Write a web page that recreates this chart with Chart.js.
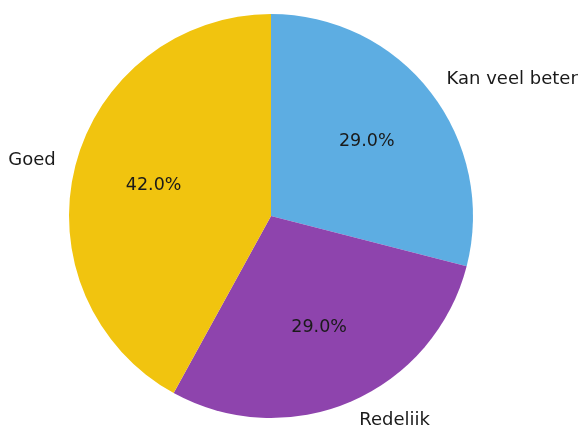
<!DOCTYPE html>
<html>
<head>
<meta charset="utf-8">
<script src="https://cdn.jsdelivr.net/npm/chart.js@4"></script>
<style>
  html, body { margin: 0; padding: 0; background: #fff; }
  canvas { display: block; }
</style>
</head>
<body>
<canvas id="pie" width="579" height="428"></canvas>
<script>
// Data
const labels = ["Kan veel beter", "Redeliik", "Goed"];
const values = [29.0, 29.0, 42.0];
const colors = ["#5DADE2", "#8E44AD", "#F1C40F"];

// Labels like matplotlib: names at 1.1 r, percentages at 0.6 r
const pieLabels = {
  id: "pieLabels",
  afterDatasetsDraw(chart) {
    const ctx = chart.ctx;
    const meta = chart.getDatasetMeta(0);
    const total = values.reduce((s, v) => s + v, 0);
    ctx.save();
    ctx.fillStyle = "#1a1a1a";
    ctx.textBaseline = "middle";
    meta.data.forEach((arc, i) => {
      const p = arc.getProps(["x", "y", "startAngle", "endAngle", "outerRadius"], true);
      const mid = (p.startAngle + p.endAngle) / 2;
      const cx = Math.cos(mid), cy = Math.sin(mid);

      ctx.font = "17.5px 'DejaVu Sans'";
      ctx.textAlign = "center";
      const pct = ((values[i] / total) * 100).toFixed(1) + "%";
      ctx.fillText(pct, p.x + cx * p.outerRadius * 0.6, p.y + cy * p.outerRadius * 0.6);

      ctx.font = "18px 'DejaVu Sans'";
      ctx.textAlign = cx > 0 ? "left" : "right";
      ctx.fillText(labels[i], p.x + cx * p.outerRadius * 1.1, p.y + cy * p.outerRadius * 1.1);
    });
    ctx.restore();
  },
};

new Chart(document.getElementById("pie"), {
  type: "pie",
  data: {
    labels: labels,
    datasets: [
      {
        data: values,
        backgroundColor: colors,
        borderWidth: 0,
      },
    ],
  },
  options: {
    responsive: false,
    animation: false,
    devicePixelRatio: 1,
    layout: { padding: { left: 69, right: 106, top: 14, bottom: 10 } },
    plugins: {
      legend: { display: false },
      tooltip: { enabled: false },
    },
  },
  plugins: [pieLabels],
});
</script>
</body>
</html>
